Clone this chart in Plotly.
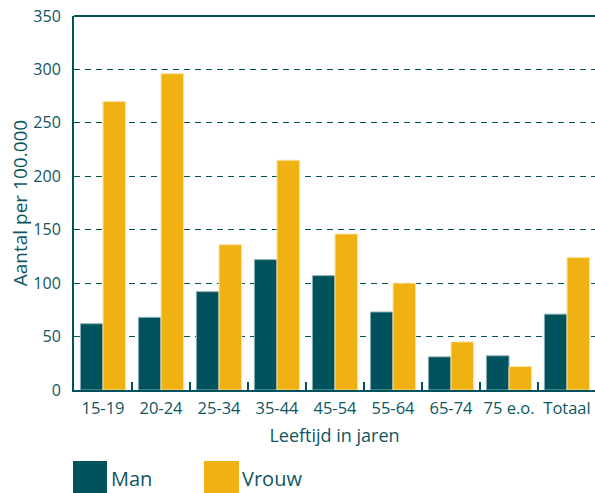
import plotly.graph_objects as go

categories = ["15-19", "20-24", "25-34", "35-44", "45-54", "55-64", "65-74", "75 e.o.", "Totaal"]
man = [62, 68, 92, 122, 107, 73, 31, 32, 71]
vrouw = [270, 296, 136, 215, 146, 100, 45, 22, 124]
series_names = ["Man", "Vrouw"]
y_ticks = [0, 50, 100, 150, 200, 250, 300, 350]

TEAL = "#00525c"
YELLOW = "#f0b213"
TXT = "#0f5661"
FONT = "Open Sans"

W, H = 595, 493
L, R, T, B = 74, 0, 16, 103
PW, PH = W - L - R, H - T - B

fig = go.Figure()
fig.add_trace(go.Bar(x=categories, y=man, name=series_names[0], marker=dict(color=TEAL, line=dict(color="#8ab0b5", width=1))))
fig.add_trace(go.Bar(x=categories, y=vrouw, name=series_names[1], marker=dict(color=YELLOW, line=dict(color="#fae3a6", width=1))))

ncat = len(categories)
cat_px = 58.0
xmax = -0.5 + PW / cat_px

def px_x(px):
    return (px - L) / PW

def px_y(py):
    return (H - B - py) / PH

shapes = [dict(type="line", xref="paper", yref="paper", x0=0, x1=1, y0=1, y1=1,
               line=dict(color=TEAL, width=2))]
annotations = []
legend_items = [(series_names[0], TEAL, 73, 107, 110), (series_names[1], YELLOW, 204, 239, 241)]
for name, col, x0, x1, tx in legend_items:
    shapes.append(dict(type="rect", xref="paper", yref="paper", x0=px_x(x0), x1=px_x(x1),
                       y0=px_y(500), y1=px_y(461), fillcolor=col, line=dict(width=0)))
    annotations.append(dict(text=name, xref="paper", yref="paper", x=px_x(tx), y=px_y(493),
                            xanchor="left", yanchor="bottom", showarrow=False, borderpad=0,
                            font=dict(family=FONT, size=20, color=TXT)))

fig.update_layout(
    width=W, height=H,
    margin=dict(l=L, r=R, t=T, b=B, autoexpand=False),
    paper_bgcolor="white", plot_bgcolor="white",
    barmode="group", bargap=0.22, bargroupgap=0.0,
    showlegend=False,
    font=dict(family=FONT, color=TXT),
    shapes=shapes, annotations=annotations,
    xaxis=dict(range=[-0.5, xmax], ticks="inside", tickson="boundaries", tickangle=0,
               ticklen=8, tickwidth=2, tickcolor=TEAL, showline=True, linecolor=TEAL, linewidth=2,
               showgrid=False, zeroline=False, tickfont=dict(size=16.5, color=TXT),
               ticklabelstandoff=2,
               title=dict(text="Leeftijd in jaren", font=dict(size=18, color=TXT), standoff=12)),
    yaxis=dict(range=[0, 350], tickvals=y_ticks, ticks="", showline=True, linecolor=TEAL,
               linewidth=2, showgrid=True, gridcolor=TEAL, gridwidth=1, griddash="6px,5px",
               zeroline=False, tickfont=dict(size=16, color=TXT), ticklabelstandoff=8,
               title=dict(text="Aantal per 100.000", font=dict(size=19, color=TXT), standoff=1)),
)

fig.write_html("out.html", config={"displayModeBar": False},
               post_script="document.body.style.margin='0';document.body.style.overflow='hidden';")
